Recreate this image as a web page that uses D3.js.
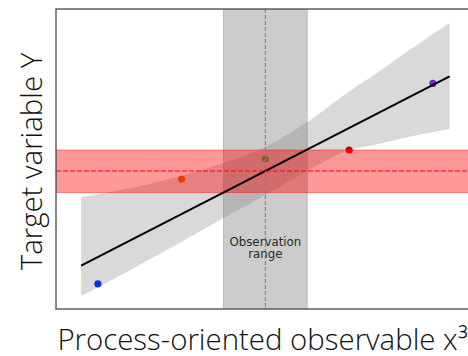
<!DOCTYPE html>
<html>
<head>
<meta charset="utf-8">
<script src="https://cdn.jsdelivr.net/npm/d3@7"></script>
<style>
  html, body { margin: 0; padding: 0; background: #fff; overflow: hidden; }
  svg { display: block; }
</style>
</head>
<body>
<svg id="chart" width="468" height="356"></svg>
<script>
// ---- data ----
const pointX = [1, 2, 3, 4, 5];
const pointY = [0.84, 4.33, 5.0, 5.3, 7.52];
const pointColors = ["#023eff", "#ff7c00", "#1ac938", "#e8000b", "#8b2be2"];
const fitRange = [0.8, 5.2];
const ciX = [0.8, 1.3, 1.9, 2.5, 3.0, 3.5, 4.0, 4.35, 4.6, 5.2];
const ciUpper = [3.73, 3.98, 4.37, 4.87, 5.40, 6.23, 7.25, 7.90, 8.40, 9.53];
const ciLower = [0.43, 1.17, 2.08, 3.03, 3.80, 4.60, 5.30, 5.50, 5.67, 6.00];
const observationRange = [2.5, 3.5];
const observationCenter = [3.0];
const targetBand = [3.88, 5.30];
const targetMean = [4.6];
const xDomain = [0.5, 5.5];
const yDomain = [0, 10];
const xLabel = "Process-oriented observable x³";
const yLabel = "Target variable Y";
const annotation = ["Observation", "range"];

// ---- layout ----
const svg = d3.select("#chart");
const pL = 56, pT = 9, pR = 474.75, pB = 309;
const x = d3.scaleLinear().domain(xDomain).range([pL, pR]);
const y = d3.scaleLinear().domain(yDomain).range([pB, pT]);

// least squares fit from the points
const mx = d3.mean(pointX), my = d3.mean(pointY);
const slope = d3.sum(pointX, (v, i) => (v - mx) * (pointY[i] - my)) / d3.sum(pointX, v => (v - mx) ** 2);
const fit = v => my + slope * (v - mx);

svg.append("defs").append("clipPath").attr("id", "clip")
  .append("rect").attr("x", pL).attr("y", pT).attr("width", pR - pL).attr("height", pB - pT);
const g = svg.append("g").attr("clip-path", "url(#clip)");

// points (drawn first, under overlays)
g.selectAll("circle.pt").data(pointX).join("circle")
  .attr("class", "pt")
  .attr("cx", d => x(d))
  .attr("cy", (d, i) => y(pointY[i]))
  .attr("r", 3.6)
  .attr("fill", (d, i) => pointColors[i]);

// confidence band
const area = d3.area()
  .x(d => x(d))
  .y0((d, i) => y(ciLower[i]))
  .y1((d, i) => y(ciUpper[i]))
  .curve(d3.curveMonotoneX);
g.append("path").datum(ciX).attr("d", area)
  .attr("fill", "#000").attr("fill-opacity", 0.15);

// observation range band
g.append("rect")
  .attr("x", x(observationRange[0])).attr("y", pT)
  .attr("width", x(observationRange[1]) - x(observationRange[0])).attr("height", pB - pT)
  .attr("fill", "#808080").attr("fill-opacity", 0.4)
  .attr("stroke", "#808080").attr("stroke-opacity", 0.4).attr("stroke-width", 1);

// target band
g.append("rect")
  .attr("x", pL).attr("y", y(targetBand[1]))
  .attr("width", pR - pL).attr("height", y(targetBand[0]) - y(targetBand[1]))
  .attr("fill", "#ff0000").attr("fill-opacity", 0.4)
  .attr("stroke", "#ff0000").attr("stroke-opacity", 0.4).attr("stroke-width", 1);

// regression line
g.append("line")
  .attr("x1", x(fitRange[0])).attr("y1", y(fit(fitRange[0])))
  .attr("x2", x(fitRange[1])).attr("y2", y(fit(fitRange[1])))
  .attr("stroke", "#000").attr("stroke-width", 2);

// vertical dashed line
g.append("line")
  .attr("x1", x(observationCenter[0])).attr("x2", x(observationCenter[0]))
  .attr("y1", pT).attr("y2", pB)
  .attr("stroke", "#808080").attr("stroke-width", 1.1).attr("stroke-dasharray", "4,2");

// horizontal dashed mean line
g.append("line")
  .attr("x1", pL).attr("x2", pR)
  .attr("y1", y(targetMean[0])).attr("y2", y(targetMean[0]))
  .attr("stroke", "#ff0000").attr("stroke-width", 1.2).attr("stroke-dasharray", "5,2");

// annotation
const ann = svg.append("text")
  .attr("text-anchor", "middle")
  .attr("font-family", "DejaVu Sans")
  .attr("font-size", 11.8)
  .attr("fill", "#2a2a2a");
ann.selectAll("tspan").data(annotation).join("tspan")
  .attr("x", x(observationCenter[0]))
  .attr("y", (d, i) => 245.5 + i * 12)
  .text(d => d);

// frame
svg.append("rect")
  .attr("x", pL).attr("y", pT)
  .attr("width", pR - pL).attr("height", pB - pT)
  .attr("fill", "none").attr("stroke", "#555").attr("stroke-width", 1.4);

// axis labels
svg.append("text")
  .attr("x", 262.5).attr("y", 350)
  .attr("text-anchor", "middle")
  .attr("font-family", "Open Sans").attr("font-size", 29.4).attr("font-weight", 300)
  .attr("fill", "#111")
  .text(xLabel);

svg.append("text")
  .attr("transform", `translate(41.5,161.5) rotate(-90)`)
  .attr("text-anchor", "middle")
  .attr("font-family", "Open Sans").attr("font-size", 29.4).attr("font-weight", 300)
  .attr("fill", "#111")
  .text(yLabel);
</script>
</body>
</html>
